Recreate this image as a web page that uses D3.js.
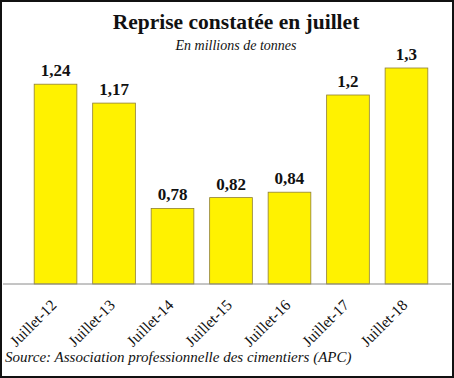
<!DOCTYPE html>
<html>
<head>
<meta charset="utf-8">
<script src="https://cdn.jsdelivr.net/npm/d3@7/dist/d3.min.js"></script>
<style>
  body { margin: 0; background: #fff; }
  svg { display: block; }
</style>
</head>
<body>
<div id="chart"></div>
<script>
let w = 454;
let h = 378;

let categories = ["Juillet-12", "Juillet-13", "Juillet-14", "Juillet-15", "Juillet-16", "Juillet-17", "Juillet-18"];
let values = [1.24, 1.17, 0.78, 0.82, 0.84, 1.2, 1.3];
let valueLabels = ["1,24", "1,17", "0,78", "0,82", "0,84", "1,2", "1,3"];

let serif = "'Liberation Serif', 'Times New Roman', serif";

let svg = d3.select("#chart")
  .append("svg")
  .attr("width", w)
  .attr("height", h);

// frame
svg.append("rect")
  .attr("x", 1).attr("y", 1)
  .attr("width", w - 2).attr("height", h - 2)
  .attr("fill", "white")
  .attr("stroke", "#111")
  .attr("stroke-width", 2);

let x = d3.scaleBand()
  .domain(categories)
  .range([26, 436])
  .paddingInner(0.27)
  .paddingOuter(0.14);

// axis starts at 0.5, not zero
let y = d3.scaleLinear()
  .domain([0.5, 1.3])
  .range([284, 68]);

let data = categories.map((c, i) => ({cat: c, v: values[i], lab: valueLabels[i]}));

svg.selectAll(".bar").data(data).enter()
  .append("rect")
  .attr("class", "bar")
  .attr("x", d => x(d.cat))
  .attr("y", d => y(d.v))
  .attr("width", x.bandwidth())
  .attr("height", d => y(0.5) - y(d.v))
  .attr("fill", "#fff200")
  .attr("stroke", "#8f7f35")
  .attr("stroke-width", 0.8);

svg.selectAll(".val").data(data).enter()
  .append("text")
  .attr("class", "val")
  .attr("x", d => x(d.cat) + x.bandwidth() / 2)
  .attr("y", d => y(d.v) - 8)
  .attr("text-anchor", "middle")
  .attr("font-family", serif)
  .attr("font-weight", "bold")
  .attr("font-size", 17)
  .attr("fill", "#111")
  .text(d => d.lab);

// baseline
svg.append("line")
  .attr("x1", 3).attr("x2", w - 3)
  .attr("y1", y(0.5)).attr("y2", y(0.5))
  .attr("stroke", "#8a8a8a")
  .attr("stroke-width", 1);

// rotated category labels
svg.selectAll(".cat").data(categories).enter()
  .append("text")
  .attr("class", "cat")
  .attr("transform", d => "translate(" + (x(d) + x.bandwidth() / 2 + 2) + "," + 306 + ") rotate(-45)")
  .attr("text-anchor", "end")
  .attr("font-family", serif)
  .attr("font-size", 15.5)
  .attr("fill", "#111")
  .text(d => d);

svg.append("text")
  .attr("x", w / 2 + 9).attr("y", 29)
  .attr("text-anchor", "middle")
  .attr("font-family", serif)
  .attr("font-weight", "bold")
  .attr("font-size", 21.5)
  .attr("fill", "#111")
  .text("Reprise constatée en juillet");

svg.append("text")
  .attr("x", w / 2 + 9).attr("y", 50)
  .attr("text-anchor", "middle")
  .attr("font-family", serif)
  .attr("font-style", "italic")
  .attr("font-size", 14)
  .attr("fill", "#111")
  .text("En millions de tonnes");

svg.append("text")
  .attr("x", 5).attr("y", 362)
  .attr("font-family", serif)
  .attr("font-style", "italic")
  .attr("font-size", 15)
  .attr("fill", "#111")
  .text("Source: Association professionnelle des cimentiers (APC)");
</script>
</body>
</html>
